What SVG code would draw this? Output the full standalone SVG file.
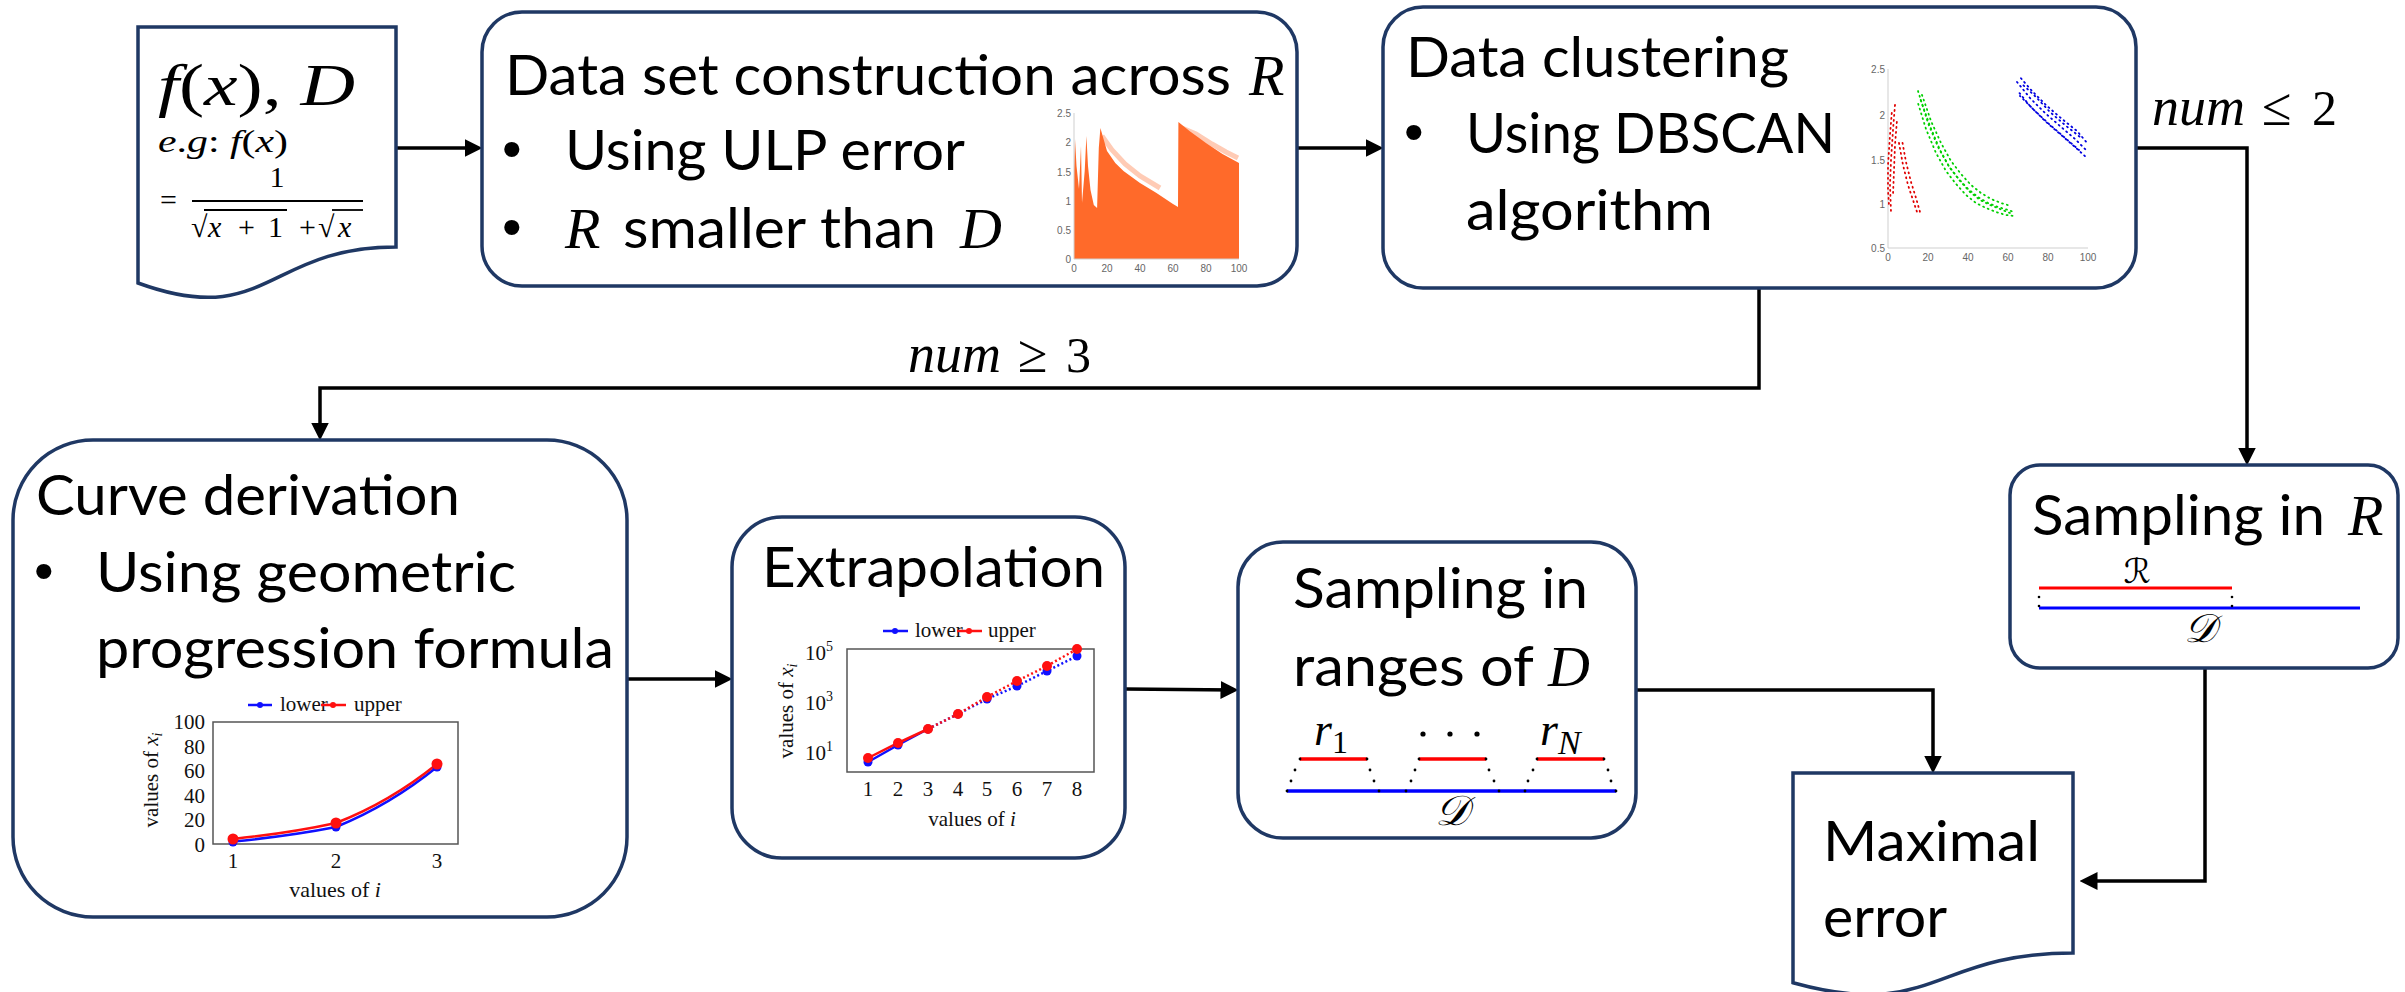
<svg xmlns="http://www.w3.org/2000/svg" width="2405" height="992" viewBox="0 0 2405 992">
<defs>
<style>
.node{fill:#fff;stroke:#1F3864;stroke-width:3.5}
.lbl{font-family:Lato,"Liberation Sans",sans-serif;font-size:56px;fill:#000}
.bul{font-family:"Liberation Sans",sans-serif;font-size:56px;fill:#000}
.m{font-family:"Liberation Serif","DejaVu Serif",serif;fill:#000}
.i{font-style:italic}
.conn{fill:none;stroke:#000;stroke-width:3.5}
.ax{fill:none;stroke:#cfcfcf;stroke-width:1}
.tk{font-family:"Liberation Sans",sans-serif;font-size:10px;fill:#666}
.ct{font-family:"Liberation Serif",serif;font-size:21px;fill:#111}
.frame{fill:none;stroke:#555;stroke-width:1.5}
.blue{stroke:#1010ff;fill:none;stroke-width:2.5}
.red{stroke:#ff1010;fill:none;stroke-width:2.5}
.dotr{fill:none;stroke:#e00000;stroke-width:1.8;stroke-dasharray:1 4;stroke-linecap:round}
.dotg{fill:none;stroke:#00d000;stroke-width:1.8;stroke-dasharray:1 4;stroke-linecap:round}
.dotb{fill:none;stroke:#0000e0;stroke-width:1.8;stroke-dasharray:1 4;stroke-linecap:round}
.script{font-family:"DejaVu Serif","DejaVu Sans","Liberation Serif",serif;font-style:italic;fill:#000}
</style>
<marker id="arr" markerUnits="userSpaceOnUse" markerWidth="18" markerHeight="18" viewBox="0 0 16 16" refX="12" refY="8" orient="auto"><path d="M0,0 L16,8 L0,16 z" fill="#000"/></marker>
</defs>
<rect width="2405" height="992" fill="#fff"/>

<g id="connectors">
<path class="conn" d="M396,148 H478" marker-end="url(#arr)"/>
<path class="conn" d="M1297,148 H1379" marker-end="url(#arr)"/>
<path class="conn" d="M2136,148 H2247 V461" marker-end="url(#arr)"/>
<path class="conn" d="M1759,288 V388 H320 V436" marker-end="url(#arr)"/>
<path class="conn" d="M627,679 H728" marker-end="url(#arr)"/>
<path class="conn" d="M1125,689 L1234,690" marker-end="url(#arr)"/>
<path class="conn" d="M1636,690 H1933 V769" marker-end="url(#arr)"/>
<path class="conn" d="M2205,668 V881 H2084" marker-end="url(#arr)"/>
<text class="m" y="125"><tspan class="i" x="2152" font-size="54">num</tspan><tspan x="2262" font-size="54">≤</tspan><tspan x="2312" font-size="50">2</tspan></text>
<text class="m" y="372"><tspan class="i" x="908" font-size="54">num</tspan><tspan x="1018" font-size="54">≥</tspan><tspan x="1066" font-size="50">3</tspan></text>
</g>

<g id="input-doc">
<path class="node" d="M138,27 H396 V247 C267,247 267,330 138,283 Z"/>
<text class="m" x="158" y="105" font-size="60" textLength="197" lengthAdjust="spacingAndGlyphs"><tspan class="i">f</tspan>(<tspan class="i">x</tspan>), <tspan class="i">D</tspan></text>
<text class="m" x="158" y="152" font-size="31" textLength="130" lengthAdjust="spacingAndGlyphs"><tspan class="i">e</tspan>.<tspan class="i">g</tspan>: <tspan class="i">f</tspan>(<tspan class="i">x</tspan>)</text>
<text class="m" x="277" y="187" font-size="30" text-anchor="middle">1</text>
<text class="m" x="160" y="210" font-size="30">=</text>
<line x1="192" y1="201" x2="363" y2="201" stroke="#000" stroke-width="2"/>
<text class="m" x="191" y="237" font-size="30">√</text>
<line x1="204" y1="210" x2="287" y2="210" stroke="#000" stroke-width="1.8"/>
<text class="m" y="237" font-size="30"><tspan class="i" x="208">x</tspan><tspan x="238">+</tspan><tspan x="268">1</tspan><tspan x="299">+</tspan></text>
<text class="m" x="318" y="237" font-size="30">√</text>
<line x1="332" y1="210" x2="363" y2="210" stroke="#000" stroke-width="1.8"/>
<text class="m i" x="338" y="237" font-size="30">x</text>
</g>

<g id="dataset">
<rect class="node" x="482" y="12" width="815" height="274" rx="40"/>
<text class="lbl" x="505" y="95" textLength="726" lengthAdjust="spacingAndGlyphs">Data set construction across</text>
<text class="m i" x="1249" y="95" font-size="58">R</text>
<text class="bul" x="502" y="168">•</text>
<text class="lbl" x="565" y="170" textLength="400" lengthAdjust="spacingAndGlyphs">Using ULP error</text>
<text class="bul" x="502" y="246">•</text>
<text class="m i" x="565" y="248" font-size="58">R</text>
<text class="lbl" x="623" y="248" textLength="313" lengthAdjust="spacingAndGlyphs">smaller than</text>
<text class="m i" x="960" y="248" font-size="58">D</text>
<g id="ulp-chart">
<path d="M1074,259 L1074,171 L1075,139 L1076.5,166 L1079,189 L1081,146 L1082,203 L1084.7,171 L1086.4,136 L1088,166 L1090.5,190 L1093.8,205 L1097.1,208 L1098.8,148 L1100.4,128 L1107,151 L1115.3,163 L1123.5,171 L1140,183 L1156.5,193 L1173,204 L1178,207 L1178.4,122 L1189.5,131 L1206,143 L1222.5,154 L1239,163 L1239,259 Z" fill="#ff6a2a"/>
<path d="M1102,136 L1112,150 L1125,164 L1140,176 L1160,188 M1182,128 L1196,134 L1212,144 L1226,152 L1238,158" fill="none" stroke="#ff6a2a" stroke-width="5" opacity="0.35"/>
<path class="ax" d="M1074,113 V259 H1239"/>
<g class="tk" text-anchor="end">
<text x="1071" y="117">2.5</text><text x="1071" y="146">2</text><text x="1071" y="176">1.5</text><text x="1071" y="205">1</text><text x="1071" y="234">0.5</text><text x="1071" y="263">0</text>
</g>
<g class="tk" text-anchor="middle">
<text x="1074" y="272">0</text><text x="1107" y="272">20</text><text x="1140" y="272">40</text><text x="1173" y="272">60</text><text x="1206" y="272">80</text><text x="1239" y="272">100</text>
</g>
</g>
</g>

<g id="clustering">
<rect class="node" x="1383" y="7" width="753" height="281" rx="40"/>
<text class="lbl" x="1406" y="77" textLength="383" lengthAdjust="spacingAndGlyphs">Data clustering</text>
<text class="bul" x="1404" y="151">•</text>
<text class="lbl" x="1466" y="153" textLength="369" lengthAdjust="spacingAndGlyphs">Using DBSCAN</text>
<text class="lbl" x="1466" y="230" textLength="247" lengthAdjust="spacingAndGlyphs">algorithm</text>
<g id="dbscan-chart">
<path class="ax" d="M1888,69 V248 H2088"/>
<g class="tk" text-anchor="end">
<text x="1885" y="73">2.5</text><text x="1885" y="119">2</text><text x="1885" y="164">1.5</text><text x="1885" y="208">1</text><text x="1885" y="252">0.5</text>
</g>
<g class="tk" text-anchor="middle">
<text x="1888" y="261">0</text><text x="1928" y="261">20</text><text x="1968" y="261">40</text><text x="2008" y="261">60</text><text x="2048" y="261">80</text><text x="2088" y="261">100</text>
</g>
<polyline class="dotr" points="1895,105 1893,130 1891,160 1890,185 1891,212"/>
<polyline class="dotr" points="1892,110 1890,135 1888,165 1888,190 1889,205" stroke-dashoffset="2"/>
<polyline class="dotr" points="1897,120 1895,145 1894,170 1893,195" stroke-dashoffset="3"/>
<polyline class="dotr" points="1899,143 1903,165 1908,185 1913,200 1918,215"/>
<polyline class="dotr" points="1902,140 1906,162 1911,182 1916,198 1920,212" stroke-dashoffset="2"/>
<polyline class="dotg" points="1918,91 1928,123 1938,147 1948,165 1958,178 1968,189 1978,197 1988,203 1998,207 2008,210 2014,212"/>
<polyline class="dotg" points="1921,92 1931,121 1941,143 1951,161 1961,174 1971,185 1981,193 1991,199 2001,203 2011,206" stroke-dashoffset="2"/>
<polyline class="dotg" points="1917,100 1926,129 1936,153 1946,171 1956,184 1966,195 1976,203 1986,208 1996,212 2006,215 2014,216" stroke-dashoffset="1"/>
<polyline class="dotg" points="1920,98 1930,126 1940,150 1950,168 1960,181 1970,192 1980,200 1990,205 2000,209 2010,213" stroke-dashoffset="3"/>
<polyline class="dotb" points="2017,82 2030,98 2045,113 2060,126 2075,139 2088,152"/>
<polyline class="dotb" points="2019,76 2032,91 2047,106 2062,119 2077,131 2088,144" stroke-dashoffset="2"/>
<polyline class="dotb" points="2017,90 2030,106 2045,121 2060,134 2075,147 2087,158" stroke-dashoffset="1"/>
<polyline class="dotb" points="2022,84 2036,97 2050,112 2065,125 2080,137" stroke-dashoffset="3"/>
<polyline class="dotb" points="2020,96 2034,110 2049,124 2064,137 2079,150" stroke-dashoffset="0.5"/>
</g>
</g>

<g id="curve-derivation">
<rect class="node" x="13" y="440" width="614" height="477" rx="80"/>
<text class="lbl" x="36" y="515" textLength="424" lengthAdjust="spacingAndGlyphs">Curve derivation</text>
<text class="bul" x="34" y="590">•</text>
<text class="lbl" x="96" y="592" textLength="420" lengthAdjust="spacingAndGlyphs">Using geometric</text>
<text class="lbl" x="96" y="668" textLength="518" lengthAdjust="spacingAndGlyphs">progression formula</text>
<g id="curve-chart">
<rect class="frame" x="213" y="722" width="245" height="122"/>
<g class="ct" text-anchor="end">
<text x="205" y="729">100</text><text x="205" y="754">80</text><text x="205" y="778">60</text><text x="205" y="803">40</text><text x="205" y="827">20</text><text x="205" y="852">0</text>
</g>
<g class="ct" text-anchor="middle">
<text x="233" y="868">1</text><text x="336" y="868">2</text><text x="437" y="868">3</text>
<text x="335" y="897" font-size="22">values of <tspan class="i">i</tspan></text>
</g>
<text class="ct" text-anchor="middle" transform="translate(158,780) rotate(-90)" font-size="22">values of <tspan class="i">x</tspan><tspan font-size="14" dy="4" class="i">i</tspan></text>
<line x1="248" y1="705" x2="272" y2="705" class="blue" stroke-width="2"/><circle cx="260" cy="705" r="3" fill="#1010ff"/>
<text class="ct" x="280" y="711" font-size="17">lower</text>
<line x1="321" y1="705" x2="346" y2="705" class="red" stroke-width="2"/><circle cx="333" cy="705" r="3" fill="#ff1010"/>
<text class="ct" x="354" y="711" font-size="17">upper</text>
<path class="blue" d="M233,841.6 Q290,836 336,827 Q390,805 437,767"/>
<path class="red" d="M233,839 Q290,833 336,823 Q390,802 437,764"/>
<g fill="#1010ff"><circle cx="233" cy="842" r="4.5"/><circle cx="336" cy="827" r="4.5"/><circle cx="437" cy="767" r="4.5"/></g>
<g fill="#ff1010"><circle cx="233" cy="839" r="5.5"/><circle cx="336" cy="823" r="5.5"/><circle cx="437" cy="764" r="5.5"/></g>
</g>
</g>

<g id="extrapolation">
<rect class="node" x="732" y="517" width="393" height="341" rx="50"/>
<text class="lbl" x="762" y="587" textLength="343" lengthAdjust="spacingAndGlyphs">Extrapolation</text>
<g id="extrap-chart">
<rect class="frame" x="847" y="649" width="247" height="123"/>
<g class="ct" font-size="22">
<text x="805" y="660">10<tspan font-size="14" dy="-9">5</tspan></text>
<text x="805" y="710">10<tspan font-size="14" dy="-9">3</tspan></text>
<text x="805" y="760">10<tspan font-size="14" dy="-9">1</tspan></text>
</g>
<g class="ct" text-anchor="middle" font-size="22">
<text x="868" y="796">1</text><text x="898" y="796">2</text><text x="928" y="796">3</text><text x="958" y="796">4</text><text x="987" y="796">5</text><text x="1017" y="796">6</text><text x="1047" y="796">7</text><text x="1077" y="796">8</text>
<text x="972" y="826">values of <tspan class="i">i</tspan></text>
</g>
<text class="ct" text-anchor="middle" transform="translate(793,711) rotate(-90)" font-size="22">values of <tspan class="i">x</tspan><tspan font-size="14" dy="4" class="i">i</tspan></text>
<line x1="883" y1="631" x2="908" y2="631" class="blue" stroke-width="2"/><circle cx="895" cy="631" r="3" fill="#1010ff"/>
<text class="ct" x="915" y="637" font-size="17">lower</text>
<line x1="957" y1="631" x2="982" y2="631" class="red" stroke-width="2"/><circle cx="969" cy="631" r="3" fill="#ff1010"/>
<text class="ct" x="988" y="637" font-size="17">upper</text>
<polyline class="blue" points="868,762 898,745 928,729"/>
<polyline class="blue" stroke-width="2" stroke-dasharray="2 2.5" points="928,729 958,714 987,699 1017,686 1047,671 1077,656"/>
<polyline class="red" points="868,758 898,743 928,729"/>
<polyline class="red" stroke-width="2" stroke-dasharray="2 2.5" points="928,729 958,714 987,697 1017,681 1047,666 1077,649"/>
<g fill="#1010ff"><circle cx="868" cy="762" r="4.5"/><circle cx="898" cy="745" r="4.5"/><circle cx="928" cy="729" r="4.5"/><circle cx="958" cy="714" r="4.5"/><circle cx="987" cy="699" r="4.5"/><circle cx="1017" cy="686" r="4.5"/><circle cx="1047" cy="671" r="4.5"/><circle cx="1077" cy="656" r="4.5"/></g>
<g fill="#ff1010"><circle cx="868" cy="758" r="5"/><circle cx="898" cy="743" r="5"/><circle cx="928" cy="729" r="5"/><circle cx="958" cy="714" r="5"/><circle cx="987" cy="697" r="5"/><circle cx="1017" cy="681" r="5"/><circle cx="1047" cy="666" r="5"/><circle cx="1077" cy="649" r="5"/></g>
</g>
</g>

<g id="sampling-d">
<rect class="node" x="1238" y="542" width="398" height="296" rx="45"/>
<text class="lbl" x="1293" y="608" textLength="295" lengthAdjust="spacingAndGlyphs">Sampling in</text>
<text class="lbl" x="1293" y="686" textLength="241" lengthAdjust="spacingAndGlyphs">ranges of</text>
<text class="m i" x="1548" y="686" font-size="58">D</text>
<g id="ranges-figure">
<line x1="1287" y1="791" x2="1616" y2="791" stroke="#0000ff" stroke-width="3.5"/>
<g stroke="#ff0000" stroke-width="3.5"><line x1="1300" y1="759" x2="1367" y2="759"/><line x1="1419" y1="759" x2="1486" y2="759"/><line x1="1537" y1="759" x2="1604" y2="759"/></g>
<g fill="#000">
<circle cx="1300" cy="759" r="1.4"/><circle cx="1295" cy="770" r="1.4"/><circle cx="1291" cy="781" r="1.4"/><circle cx="1287" cy="791" r="1.4"/>
<circle cx="1367" cy="759" r="1.4"/><circle cx="1370" cy="770" r="1.4"/><circle cx="1374" cy="781" r="1.4"/><circle cx="1379" cy="791" r="1.4"/>
<circle cx="1419" cy="759" r="1.4"/><circle cx="1415" cy="770" r="1.4"/><circle cx="1411" cy="781" r="1.4"/><circle cx="1406" cy="791" r="1.4"/>
<circle cx="1486" cy="759" r="1.4"/><circle cx="1489" cy="770" r="1.4"/><circle cx="1494" cy="781" r="1.4"/><circle cx="1499" cy="791" r="1.4"/>
<circle cx="1537" cy="759" r="1.4"/><circle cx="1533" cy="770" r="1.4"/><circle cx="1528" cy="781" r="1.4"/><circle cx="1525" cy="791" r="1.4"/>
<circle cx="1604" cy="759" r="1.4"/><circle cx="1608" cy="770" r="1.4"/><circle cx="1611" cy="781" r="1.4"/><circle cx="1616" cy="791" r="1.4"/>
<circle cx="1423" cy="734" r="2.6"/><circle cx="1450" cy="734" r="2.6"/><circle cx="1477" cy="734" r="2.6"/>
</g>
<text class="m i" x="1314" y="745" font-size="46">r<tspan font-style="normal" font-size="32" dy="8">1</tspan></text>
<text class="m i" x="1540" y="745" font-size="46">r<tspan font-size="34" dy="9">N</tspan></text>
<text class="script" x="1452" y="825" font-size="42" text-anchor="middle">𝒟</text>
</g>
</g>

<g id="sampling-r">
<rect class="node" x="2010" y="465" width="388" height="203" rx="30"/>
<text class="lbl" x="2032" y="535" textLength="293" lengthAdjust="spacingAndGlyphs">Sampling in</text>
<text class="m i" x="2348" y="535" font-size="58">R</text>
<g id="r-figure">
<line x1="2039" y1="588" x2="2232" y2="588" stroke="#ff0000" stroke-width="3"/>
<line x1="2039" y1="608" x2="2360" y2="608" stroke="#0000ff" stroke-width="3"/>
<g fill="#000"><circle cx="2039" cy="597" r="1.3"/><circle cx="2039" cy="606" r="1.3"/><circle cx="2232" cy="597" r="1.3"/><circle cx="2232" cy="606" r="1.3"/></g>
<text class="script" x="2137" y="583" font-size="34" text-anchor="middle">ℛ</text>
<text class="script" x="2200" y="642" font-size="40" text-anchor="middle">𝒟</text>
</g>
</g>

<g id="maximal-error">
<path class="node" d="M1793,773 H2073 V953 C1933,953 1933,1021.6 1793,982.7 Z"/>
<text class="lbl" x="1823" y="861" textLength="217" lengthAdjust="spacingAndGlyphs">Maximal</text>
<text class="lbl" x="1823" y="937" textLength="124" lengthAdjust="spacingAndGlyphs">error</text>
</g>
</svg>
